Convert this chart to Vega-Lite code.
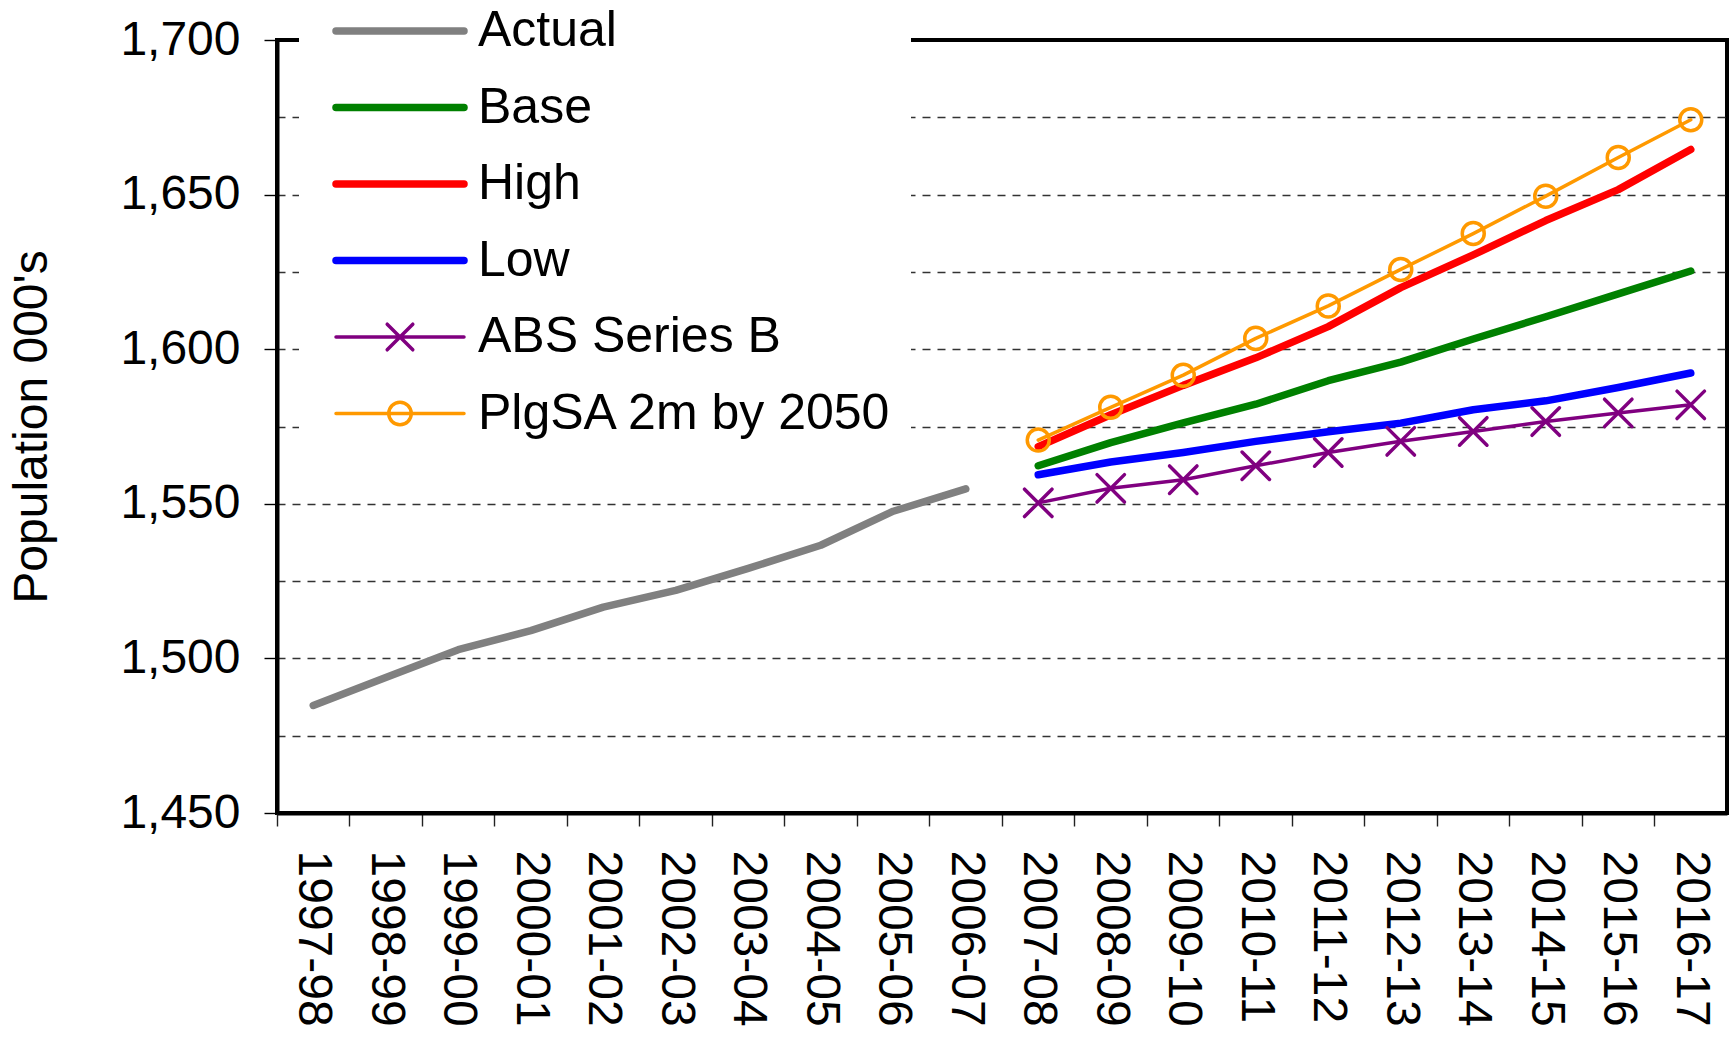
{
  "$schema": "https://vega.github.io/schema/vega-lite/v6.json",
  "width": 1450,
  "height": 773,
  "autosize": {"type": "none"},
  "padding": {"left": 277, "top": 40, "right": 9, "bottom": 226},
  "background": "white",
  "config": {
    "view": {"stroke": "black", "strokeWidth": 4},
    "font": "Liberation Sans"
  },
  "data": {
    "values": [
      {"year": "1997-98", "series": "Actual", "value": 1484.8},
      {"year": "1998-99", "series": "Actual", "value": 1493.8},
      {"year": "1999-00", "series": "Actual", "value": 1502.8},
      {"year": "2000-01", "series": "Actual", "value": 1509.0},
      {"year": "2001-02", "series": "Actual", "value": 1516.6},
      {"year": "2002-03", "series": "Actual", "value": 1522.0},
      {"year": "2003-04", "series": "Actual", "value": 1529.1},
      {"year": "2004-05", "series": "Actual", "value": 1536.6},
      {"year": "2005-06", "series": "Actual", "value": 1547.6},
      {"year": "2006-07", "series": "Actual", "value": 1554.8},

      {"year": "2007-08", "series": "Base", "value": 1562.3},
      {"year": "2008-09", "series": "Base", "value": 1569.8},
      {"year": "2009-10", "series": "Base", "value": 1576.2},
      {"year": "2010-11", "series": "Base", "value": 1582.2},
      {"year": "2011-12", "series": "Base", "value": 1589.8},
      {"year": "2012-13", "series": "Base", "value": 1595.8},
      {"year": "2013-14", "series": "Base", "value": 1603.3},
      {"year": "2014-15", "series": "Base", "value": 1610.5},
      {"year": "2015-16", "series": "Base", "value": 1617.9},
      {"year": "2016-17", "series": "Base", "value": 1625.3},

      {"year": "2007-08", "series": "High", "value": 1568.5},
      {"year": "2008-09", "series": "High", "value": 1578.8},
      {"year": "2009-10", "series": "High", "value": 1588.3},
      {"year": "2010-11", "series": "High", "value": 1597.2},
      {"year": "2011-12", "series": "High", "value": 1607.3},
      {"year": "2012-13", "series": "High", "value": 1619.9},
      {"year": "2013-14", "series": "High", "value": 1630.5},
      {"year": "2014-15", "series": "High", "value": 1641.6},
      {"year": "2015-16", "series": "High", "value": 1651.6},
      {"year": "2016-17", "series": "High", "value": 1664.6},

      {"year": "2007-08", "series": "Low", "value": 1559.4},
      {"year": "2008-09", "series": "Low", "value": 1563.5},
      {"year": "2009-10", "series": "Low", "value": 1566.6},
      {"year": "2010-11", "series": "Low", "value": 1570.2},
      {"year": "2011-12", "series": "Low", "value": 1573.3},
      {"year": "2012-13", "series": "Low", "value": 1576.1},
      {"year": "2013-14", "series": "Low", "value": 1580.4},
      {"year": "2014-15", "series": "Low", "value": 1583.3},
      {"year": "2015-16", "series": "Low", "value": 1587.6},
      {"year": "2016-17", "series": "Low", "value": 1592.3},

      {"year": "2007-08", "series": "ABS Series B", "value": 1550.3},
      {"year": "2008-09", "series": "ABS Series B", "value": 1555.0},
      {"year": "2009-10", "series": "ABS Series B", "value": 1557.8},
      {"year": "2010-11", "series": "ABS Series B", "value": 1562.3},
      {"year": "2011-12", "series": "ABS Series B", "value": 1566.6},
      {"year": "2012-13", "series": "ABS Series B", "value": 1570.2},
      {"year": "2013-14", "series": "ABS Series B", "value": 1573.4},
      {"year": "2014-15", "series": "ABS Series B", "value": 1576.6},
      {"year": "2015-16", "series": "ABS Series B", "value": 1579.4},
      {"year": "2016-17", "series": "ABS Series B", "value": 1582.0},

      {"year": "2007-08", "series": "PlgSA 2m by 2050", "value": 1570.6},
      {"year": "2008-09", "series": "PlgSA 2m by 2050", "value": 1581.2},
      {"year": "2009-10", "series": "PlgSA 2m by 2050", "value": 1591.6},
      {"year": "2010-11", "series": "PlgSA 2m by 2050", "value": 1603.5},
      {"year": "2011-12", "series": "PlgSA 2m by 2050", "value": 1614.0},
      {"year": "2012-13", "series": "PlgSA 2m by 2050", "value": 1625.8},
      {"year": "2013-14", "series": "PlgSA 2m by 2050", "value": 1637.4},
      {"year": "2014-15", "series": "PlgSA 2m by 2050", "value": 1649.5},
      {"year": "2015-16", "series": "PlgSA 2m by 2050", "value": 1662.0},
      {"year": "2016-17", "series": "PlgSA 2m by 2050", "value": 1674.2}
    ]
  },
  "encoding": {
    "x": {
      "field": "year",
      "type": "ordinal",
      "sort": null,
      "bandPosition": 0.5,
      "scale": {
        "type": "band",
        "paddingInner": 0,
        "paddingOuter": 0,
        "domain": ["1997-98", "1998-99", "1999-00", "2000-01", "2001-02", "2002-03", "2003-04", "2004-05", "2005-06", "2006-07",
                   "2007-08", "2008-09", "2009-10", "2010-11", "2011-12", "2012-13", "2013-14", "2014-15", "2015-16", "2016-17"]
      },
      "axis": {
        "title": null,
        "bandPosition": 0,
        "domainColor": "black",
        "domainWidth": 4,
        "tickColor": "#222222",
        "tickWidth": 1.4,
        "tickSize": 13,
        "labelAngle": 90,
        "labelFont": "Liberation Sans",
        "labelFontSize": 48,
        "labelColor": "black",
        "labelPadding": 24,
        "labelOverlap": false,
        "labelBound": false,
        "grid": false
      }
    },
    "y": {
      "field": "value",
      "type": "quantitative",
      "scale": {"domain": [1450, 1700], "nice": false, "zero": false},
      "axis": {
        "title": "Population 000's",
        "titleFont": "Liberation Sans",
        "titleFontSize": 48,
        "titleFontWeight": "normal",
        "titleColor": "black",
        "titleX": -231,
        "titleBaseline": "alphabetic",
        "values": [1450, 1475, 1500, 1525, 1550, 1575, 1600, 1625, 1650, 1675, 1700],
        "labelExpr": "datum.value % 50 === 0 ? format(datum.value, ',') : ''",
        "labelFont": "Liberation Sans",
        "labelFontSize": 48,
        "labelColor": "black",
        "labelPadding": 24,
        "domainColor": "black",
        "domainWidth": 4,
        "tickColor": "black",
        "tickWidth": 1.4,
        "tickSize": 13,
        "tickOpacity": {"condition": {"test": "datum.value % 50 === 0", "value": 1}, "value": 0},
        "grid": true,
        "gridColor": "#333333",
        "gridWidth": 1.4,
        "gridDash": [8, 7],
        "gridOpacity": {"condition": {"test": "datum.value === 1450 || datum.value === 1700", "value": 0}, "value": 1}
      }
    }
  },
  "layer": [
    {
      "mark": {"type": "line", "strokeCap": "round", "strokeJoin": "round"},
      "encoding": {
        "color": {
          "field": "series",
          "type": "nominal",
          "scale": {
            "domain": ["Actual", "Base", "High", "Low", "ABS Series B", "PlgSA 2m by 2050"],
            "range": ["#808080", "#008000", "#FF0000", "#0000FF", "#800080", "#FF9900"]
          },
          "legend": {
            "title": null,
            "orient": "none",
            "legendX": 22,
            "legendY": -47,
            "padding": 18,
            "fillColor": "white",
            "strokeColor": null,
            "symbolSize": 16384,
            "symbolOffset": 15,
            "clipHeight": 40,
            "rowPadding": 26.5,
            "labelOffset": 10,
            "labelFont": "Liberation Sans",
            "labelFontSize": 50,
            "labelColor": "black",
            "labelLimit": 0,
            "encode": {
              "symbols": {
                "update": {
                  "shape": {"signal": "datum.value === 'ABS Series B' ? 'M-1,0L1,0M-0.2,-0.2L0.2,0.2M-0.2,0.2L0.2,-0.2' : datum.value === 'PlgSA 2m by 2050' ? 'M-1,0L1,0M0.176,0A0.176,0.176 0 1,1 -0.176,0A0.176,0.176 0 1,1 0.176,0' : 'M-1,0L1,0'"},
                  "fill": {"value": "transparent"},
                  "strokeCap": {"value": "round"},
                  "opacity": {"value": 1}
                }
              }
            }
          }
        },
        "strokeWidth": {
          "field": "series",
          "type": "nominal",
          "scale": {
            "type": "ordinal",
            "domain": ["Actual", "Base", "High", "Low", "ABS Series B", "PlgSA 2m by 2050"],
            "range": [7.5, 7.5, 7.5, 7.5, 3.5, 3.5]
          }
        }
      }
    },
    {
      "transform": [{"filter": {"field": "series", "oneOf": ["ABS Series B", "PlgSA 2m by 2050"]}}],
      "mark": {"type": "point", "filled": false, "opacity": 1, "size": 784, "strokeWidth": 3.5, "strokeCap": "round"},
      "encoding": {
        "stroke": {
          "field": "series",
          "type": "nominal",
          "scale": {"domain": ["ABS Series B", "PlgSA 2m by 2050"], "range": ["#800080", "#FF9900"]},
          "legend": null
        },
        "shape": {
          "field": "series",
          "type": "nominal",
          "scale": {
            "domain": ["ABS Series B", "PlgSA 2m by 2050"],
            "range": ["M-0.98,-0.98L0.98,0.98M-0.98,0.98L0.98,-0.98", "M0.786,0A0.786,0.786 0 1,1 -0.786,0A0.786,0.786 0 1,1 0.786,0"]
          },
          "legend": null
        }
      }
    }
  ]
}
